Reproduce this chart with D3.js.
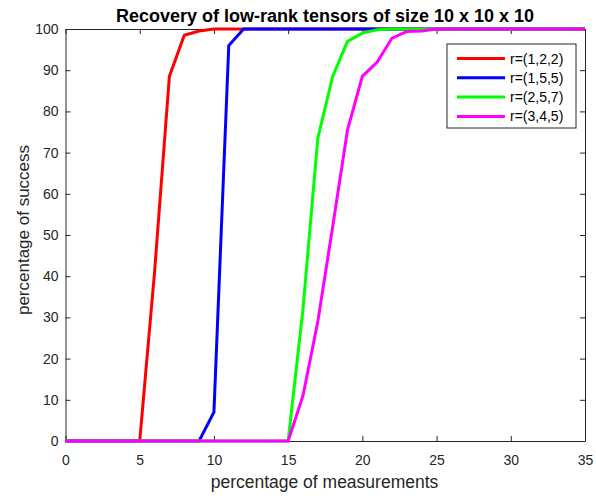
<!DOCTYPE html>
<html>
<head>
<meta charset="utf-8">
<script src="https://cdn.jsdelivr.net/npm/d3@7/dist/d3.min.js"></script>
<style>
  body { margin: 0; background: #fff; }
  svg { font-family: "Liberation Sans", Arial, sans-serif; }
</style>
</head>
<body>
<div id="chart"></div>
<script>

// Measurement percentages (x values).
var measurements = d3.range(0, 36);

// Series names and colours.
var seriesNames = ['r=(1,2,2)', 'r=(1,5,5)', 'r=(2,5,7)', 'r=(3,4,5)'];
var seriesColors = ['#ff0000', '#0000ff', '#00ff00', '#ff00ff'];

var red = [0, 0, 0, 0, 0, 0, 41, 88.5, 98.5, 99.5, 100, 100, 100, 100, 100, 100, 100, 100,
  100, 100, 100, 100, 100, 100, 100, 100, 100, 100, 100, 100, 100, 100, 100, 100, 100, 100];
var blue = [0, 0, 0, 0, 0, 0, 0, 0, 0, 0, 7, 96, 100, 100, 100, 100, 100, 100,
  100, 100, 100, 100, 100, 100, 100, 100, 100, 100, 100, 100, 100, 100, 100, 100, 100, 100];
var green = [0, 0, 0, 0, 0, 0, 0, 0, 0, 0, 0, 0, 0, 0, 0, 0, 32, 73.5, 88.5, 97, 99, 99.8,
  100, 100, 100, 100, 100, 100, 100, 100, 100, 100, 100, 100, 100, 100];
var magenta = [0, 0, 0, 0, 0, 0, 0, 0, 0, 0, 0, 0, 0, 0, 0, 0, 11, 29, 52, 75.5, 88.5, 92,
  97.8, 99.4, 99.5, 100, 100, 100, 100, 100, 100, 100, 100, 100, 100, 100];
var seriesValues = [red, blue, green, magenta];

// Tick values.
var xTicks = [0, 5, 10, 15, 20, 25, 30, 35];
var yTicks = [0, 10, 20, 30, 40, 50, 60, 70, 80, 90, 100];

var width = 596, height = 496;
var margin = { top: 29, right: 11, bottom: 55, left: 65.5 };
var plotW = width - margin.left - margin.right;
var plotH = height - margin.top - margin.bottom;
var axisColor = '#262626';

var svg = d3.select('#chart').append('svg')
  .attr('width', width)
  .attr('height', height);

var x = d3.scaleLinear().domain([0, 35]).range([0, plotW]);
var y = d3.scaleLinear().domain([0, 100]).range([plotH, 0]);

var g = svg.append('g')
  .attr('transform', 'translate(' + margin.left + ',' + margin.top + ')');

// Axes (ticks pointing inward, box on all sides).
function styleAxis(sel) {
  sel.selectAll('path').attr('stroke', axisColor).attr('stroke-width', 1);
  sel.selectAll('line').attr('stroke', axisColor);
  sel.selectAll('text').attr('fill', axisColor).style('font-size', '14px');
}

g.append('g')
  .attr('transform', 'translate(0,' + plotH + ')')
  .call(d3.axisBottom(x).tickValues(xTicks).tickSizeInner(-5).tickSizeOuter(0).tickPadding(14.5))
  .call(styleAxis);

g.append('g')
  .call(d3.axisTop(x).tickValues(xTicks).tickSizeInner(-5).tickSizeOuter(0).tickFormat(''))
  .call(styleAxis);

g.append('g')
  .call(d3.axisLeft(y).tickValues(yTicks).tickSizeInner(-5).tickSizeOuter(0).tickPadding(7))
  .call(styleAxis);

g.append('g')
  .attr('transform', 'translate(' + plotW + ',0)')
  .call(d3.axisRight(y).tickValues(yTicks).tickSizeInner(-5).tickSizeOuter(0).tickFormat(''))
  .call(styleAxis);

// Lines.
var line = d3.line()
  .x(function(d, i) { return x(measurements[i]); })
  .y(function(d) { return y(d); });

var plot = g.append('g');
seriesValues.forEach(function(vals, i) {
  plot.append('path')
    .datum(vals)
    .attr('fill', 'none')
    .attr('stroke', seriesColors[i])
    .attr('stroke-width', 3)
    .attr('stroke-linejoin', 'miter')
    .attr('d', line);
});

// Legend.
var legend = svg.append('g').attr('transform', 'translate(447,44)');
legend.append('rect')
  .attr('width', 129)
  .attr('height', 84)
  .attr('fill', '#fff')
  .attr('stroke', axisColor)
  .attr('stroke-width', 1);

seriesNames.forEach(function(name, i) {
  var ly = 14.5 + i * 19.3;
  legend.append('line')
    .attr('x1', 10).attr('x2', 58)
    .attr('y1', ly).attr('y2', ly)
    .attr('stroke', seriesColors[i])
    .attr('stroke-width', 3);
  legend.append('text')
    .attr('x', 63).attr('y', ly + 5)
    .attr('fill', '#000')
    .style('font-size', '14px')
    .text(name);
});

// Title and axis labels.
svg.append('text')
  .attr('x', 325)
  .attr('y', 22)
  .attr('text-anchor', 'middle')
  .style('font-size', '18px')
  .style('font-weight', 'bold')
  .attr('fill', '#000')
  .text('Recovery of low-rank tensors of size 10 x 10 x 10');

svg.append('text')
  .attr('x', 324.5)
  .attr('y', 488)
  .attr('text-anchor', 'middle')
  .style('font-size', '17.5px')
  .attr('fill', axisColor)
  .text('percentage of measurements');

svg.append('text')
  .attr('transform', 'translate(29,230) rotate(-90)')
  .attr('text-anchor', 'middle')
  .style('font-size', '17px')
  .attr('fill', axisColor)
  .text('percentage of success');

</script>
</body>
</html>
